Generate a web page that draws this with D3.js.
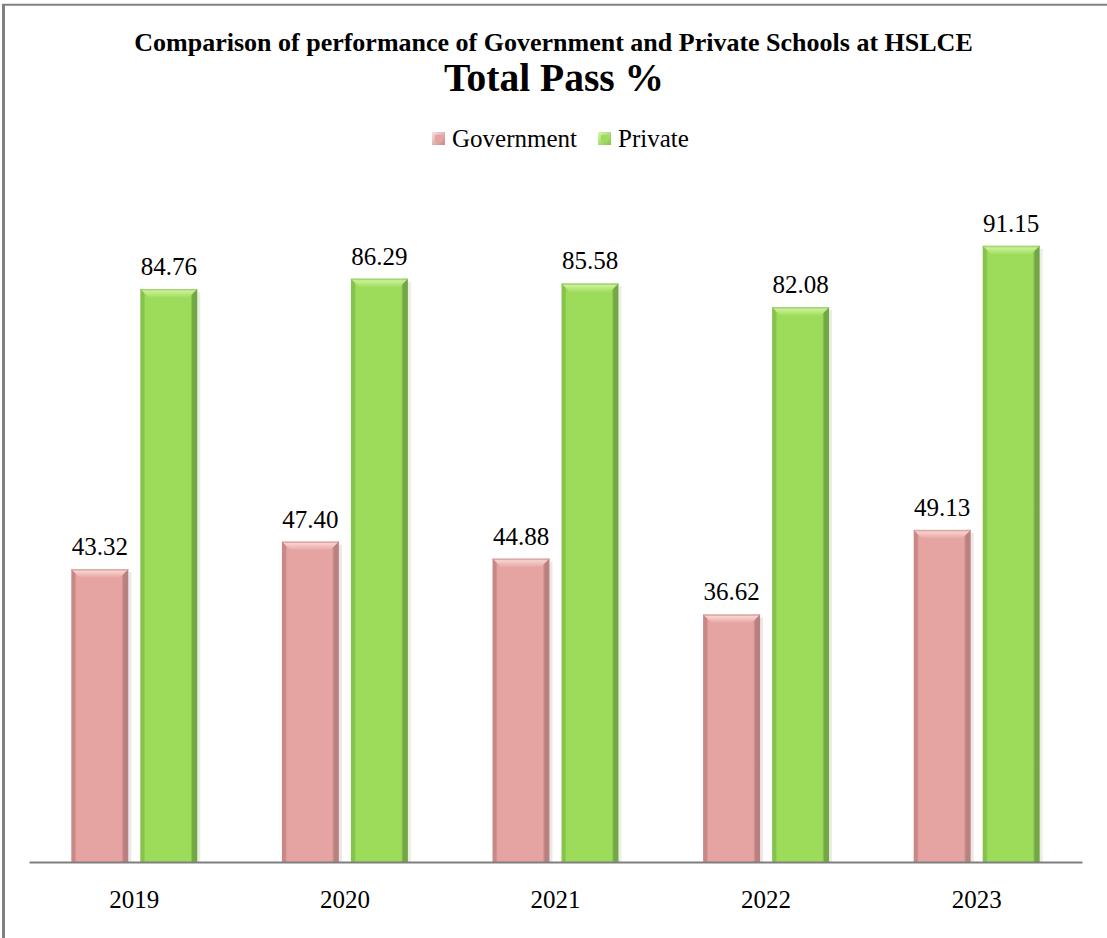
<!DOCTYPE html>
<html><head><meta charset="utf-8">
<script src="https://cdn.jsdelivr.net/npm/d3@7"></script>
<style>html,body{margin:0;padding:0;background:#fff;}svg{display:block;}</style>
</head><body>
<svg id="c" width="1107" height="938"></svg>
<script>
const years = ["2019","2020","2021","2022","2023"];
const government = [43.32, 47.40, 44.88, 36.62, 49.13];
const privateSch = [84.76, 86.29, 85.58, 82.08, 91.15];
const seriesNames = ["Government","Private"];
const titleLine1 = "Comparison of performance of Government and Private Schools at HSLCE";
const titleLine2 = "Total Pass %";

const svg = d3.select("#c");
const W = 1107, H = 938;
const font = "'Liberation Serif','Times New Roman',serif";

const defs = svg.append("defs");
const pal = {
  gov: {main:"#e5a3a1", left:"#c98886", right:"#b98080", top:"#fde0dc", shadow:"#ece8e8"},
  pri: {main:"#9ddc5b", left:"#86c24c", right:"#73a644", top:"#d8f7a8", shadow:"#eaefe6"}
};
Object.entries(pal).forEach(([k,c])=>{
  const g = defs.append("linearGradient").attr("id","h"+k).attr("x1",0).attr("x2",1).attr("y1",0).attr("y2",0);
  g.append("stop").attr("offset","0%").attr("stop-color",c.left);
  g.append("stop").attr("offset","6%").attr("stop-color",c.left);
  g.append("stop").attr("offset","9%").attr("stop-color",c.main);
  g.append("stop").attr("offset","88%").attr("stop-color",c.main);
  g.append("stop").attr("offset","92%").attr("stop-color",c.right);
  g.append("stop").attr("offset","100%").attr("stop-color",c.right);
  const v = defs.append("linearGradient").attr("id","v"+k).attr("x1",0).attr("x2",0).attr("y1",0).attr("y2",1);
  v.append("stop").attr("offset","0%").attr("stop-color",c.top);
  v.append("stop").attr("offset","100%").attr("stop-color",c.main);
  const s = defs.append("linearGradient").attr("id","s"+k).attr("x1",0).attr("x2",1).attr("y1",0).attr("y2",1);
  s.append("stop").attr("offset","0%").attr("stop-color",c.top);
  s.append("stop").attr("offset","100%").attr("stop-color",c.left);
});

// frame
svg.append("line").attr("x1",3.5).attr("x2",3.5).attr("y1",4).attr("y2",H).attr("stroke","#808080").attr("stroke-width",3);
svg.append("line").attr("x1",2).attr("x2",W).attr("y1",4.8).attr("y2",4.8).attr("stroke","#808080").attr("stroke-width",2);

// titles
svg.append("text").attr("x",553.5).attr("y",51).attr("text-anchor","middle")
  .attr("font-family",font).attr("font-weight","bold").attr("font-size",26).text(titleLine1);
svg.append("text").attr("x",554).attr("y",91).attr("text-anchor","middle")
  .attr("font-family",font).attr("font-weight","bold").attr("font-size",39.5).text(titleLine2);

// legend
const legend = [{name:seriesNames[0],k:"gov",x:432},{name:seriesNames[1],k:"pri",x:598}];
legend.forEach(l=>{
  svg.append("rect").attr("x",l.x).attr("y",132).attr("width",13).attr("height",13).attr("fill","url(#s"+l.k+")");
  svg.append("rect").attr("x",l.x+3).attr("y",135).attr("width",7).attr("height",7).attr("fill",pal[l.k].main);
  svg.append("text").attr("x",l.x+20).attr("y",147).attr("font-family",font).attr("font-size",25).text(l.name);
});

// scales
const x0 = d3.scaleBand().domain(years).range([29,1082]).paddingInner(0).paddingOuter(0);
const y = d3.scaleLinear().domain([0,100]).range([862,186]);
const barW = 57, gap = 12;
const off = (x0.bandwidth() - (2*barW+gap))/2;

const data = [];
years.forEach((yr,i)=>{
  data.push({yr, v:government[i], k:"gov", x:x0(yr)+off});
  data.push({yr, v:privateSch[i], k:"pri", x:x0(yr)+off+barW+gap});
});

const g = svg.append("g");
data.forEach(d=>{
  const top = y(d.v), bot = y(0), c = pal[d.k];
  g.append("rect").attr("x",d.x+barW).attr("y",top+3).attr("width",3).attr("height",bot-top-3).attr("fill",c.shadow);
  g.append("rect").attr("x",d.x).attr("y",top).attr("width",barW).attr("height",bot-top).attr("fill","url(#h"+d.k+")");
  const b = 9;
  g.append("path").attr("d",`M${d.x},${top}L${d.x+barW},${top}L${d.x+barW-b},${top+b}L${d.x+b},${top+b}Z`)
    .attr("fill","url(#v"+d.k+")");
  g.append("rect").attr("x",d.x).attr("y",top).attr("width",barW).attr("height",1.5).attr("fill",c.left).attr("opacity",0.6);
  g.append("text").attr("x",d.x+barW/2).attr("y",top-14).attr("text-anchor","middle")
    .attr("font-family",font).attr("font-size",25).attr("fill","#000").text(d.v.toFixed(2));
});

// axis
const ax = svg.append("g").attr("transform","translate(0,862)")
  .call(d3.axisBottom(x0).tickSize(0).tickPadding(0));
ax.attr("font-family",font);
ax.select(".domain").attr("stroke","#7f7f7f").attr("stroke-width",2);
ax.selectAll(".tick text").attr("font-family",font).attr("font-size",25).attr("fill","#000")
  .attr("dy",null).attr("y",46);
</script>
</body></html>
